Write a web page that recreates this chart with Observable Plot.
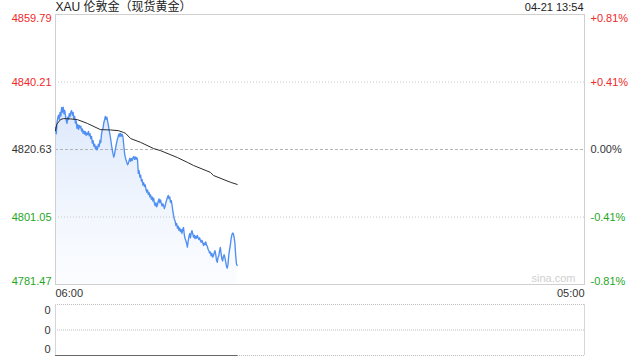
<!DOCTYPE html>
<html>
<head>
<meta charset="utf-8">
<script src="https://cdn.jsdelivr.net/npm/d3@7"></script>
<script src="https://cdn.jsdelivr.net/npm/@observablehq/plot@0.6"></script>
<style>
  html, body { margin: 0; padding: 0; background: #fff; }
  #chart { width: 640px; height: 360px; overflow: hidden; }
  #chart svg { display: block; }
</style>
</head>
<body>
<div id="chart"></div>
<script>
// ---------- data ----------
const titleText = "XAU 伦敦金（现货黄金）";
const stampText = "04-21 13:54";
const watermark = "sina.com";
const xDomainLabels = ["06:00", "05:00"];
const yTicks = [4781.47, 4801.05, 4820.63, 4840.21, 4859.79];
const pctLabels = ["-0.81%", "-0.41%", "0.00%", "+0.41%", "+0.81%"];
const prevClose = 4820.63;

// price every 2 minutes from 06:00 to 13:54
const priceStart = "06:00";
const priceStepMin = 2;
const prices = [
  4827.0, 4825.2, 4828.5, 4829.8, 4830.6, 4829.4, 4831.4, 4830.4, 4832.8, 4831.5,
  4832.9, 4831.0, 4832.0, 4830.5, 4829.0, 4828.2, 4830.0, 4829.3, 4831.0, 4830.2,
  4831.5, 4831.9, 4830.6, 4831.4, 4829.5, 4830.2, 4828.3, 4828.9, 4826.8, 4827.8,
  4826.5, 4827.6, 4826.9, 4827.4, 4826.0, 4826.6, 4825.3, 4826.0, 4825.1, 4825.8,
  4824.7, 4825.4, 4825.0, 4825.9, 4824.6, 4825.2, 4823.8, 4824.4, 4822.5, 4823.2,
  4821.6, 4822.2, 4820.9, 4821.6, 4820.5, 4821.0, 4822.2, 4821.5, 4823.3, 4822.6,
  4825.0, 4826.3, 4826.8, 4828.4, 4829.2, 4830.2, 4829.4, 4830.0, 4828.8, 4827.6,
  4826.2, 4825.0, 4823.6, 4822.0, 4820.6, 4819.4, 4818.4, 4819.2, 4820.6, 4821.8,
  4822.9, 4823.8, 4824.6, 4825.2, 4824.4, 4825.3, 4824.5, 4825.0, 4824.2, 4822.0,
  4819.6, 4818.4, 4817.6, 4816.9, 4816.2, 4816.6, 4817.4, 4818.1, 4817.2, 4818.0,
  4817.4, 4818.2, 4818.6, 4817.8, 4818.5, 4817.8, 4818.3, 4817.6, 4813.7, 4814.5,
  4812.6, 4813.2, 4811.5, 4811.9, 4810.3, 4811.0, 4809.9, 4810.4, 4809.1, 4808.3,
  4808.9, 4807.6, 4808.2, 4806.9, 4807.5, 4806.2, 4806.9, 4805.7, 4806.5, 4805.0,
  4804.3, 4805.2, 4804.0, 4804.6, 4805.6, 4806.3, 4805.2, 4806.0, 4805.0, 4804.2,
  4804.9, 4804.3, 4803.5, 4804.2, 4805.2, 4806.0, 4806.7, 4807.3, 4806.4, 4806.9,
  4805.3, 4805.8, 4804.6, 4802.8, 4801.5, 4800.4, 4799.9, 4798.6, 4799.2, 4797.8,
  4798.4, 4797.2, 4797.9, 4796.8, 4797.4, 4796.3, 4797.5, 4798.0, 4795.9, 4794.8,
  4794.2, 4793.4, 4792.3, 4794.0, 4795.3, 4796.2, 4795.0, 4796.4, 4797.1, 4796.2,
  4795.2, 4795.8, 4794.8, 4795.5, 4794.9, 4795.7, 4795.1, 4794.5, 4795.0, 4794.2,
  4793.7, 4794.3, 4793.6, 4792.8, 4793.5, 4793.0, 4793.8, 4792.9, 4792.6, 4791.7,
  4791.3, 4790.6, 4790.9, 4789.8, 4790.5, 4789.4, 4789.8, 4790.6, 4791.3, 4790.2,
  4788.5, 4787.9, 4789.3, 4789.8, 4791.2, 4792.2, 4790.4, 4788.9, 4788.3, 4789.6,
  4790.1, 4789.2, 4788.0, 4786.8, 4786.2, 4787.3, 4789.9, 4791.5, 4792.9, 4794.6,
  4795.8, 4796.4, 4796.2, 4795.1, 4793.4, 4790.0, 4787.5, 4787.0
];

// average price line
const avgTimes = ["06:00","06:03","06:13","06:21","06:39","06:57","07:23","07:57","08:23","08:44",
                  "08:57","09:03","09:16","09:42","10:16","10:34","11:18","11:44","12:00","12:44",
                  "12:52","13:37","13:54"];
const avgPrices = [4826.1, 4827.9, 4829.3, 4829.6, 4829.5, 4829.3, 4828.2, 4826.4, 4826.3, 4826.1,
                   4825.6, 4825.3, 4823.8, 4822.7, 4820.9, 4820.3, 4818.3, 4816.9, 4816.0, 4814.0,
                   4813.1, 4811.1, 4810.5];

// volume panel (all zero)
const volTimes = ["06:00", "13:54"];
const volumes = [0, 0];
const volTickLabels = ["0", "0", "0"];

// ---------- helpers ----------
const parseT = s => {
  const [h, m] = s.split(":").map(Number);
  return new Date(2025, 3, h < 6 ? 22 : 21, h, m);
};
const t0 = parseT(priceStart);
const priceData = prices.map((p, i) => ({t: new Date(t0.getTime() + i * priceStepMin * 60000), p}));
const avgData = avgTimes.map((s, i) => ({t: parseT(s), p: avgPrices[i]}));
const volData = volTimes.map((s, i) => ({t: parseT(s), v: volumes[i]}));
const xDomain = xDomainLabels.map(parseT);

const RED = "#f02828", GREEN = "#1fa61f", DARK = "#333";
const colorOf = v => v > prevClose ? RED : v < prevClose ? GREEN : DARK;
const FONT = "'Liberation Sans', Arial, 'Noto Sans CJK SC', sans-serif";

const tickRows = yTicks.map((v, i) => ({v, label: v.toFixed(2), pct: pctLabels[i]}));
const topRow = tickRows.filter((d, i) => i === tickRows.length - 1);
const botRow = tickRows.filter((d, i) => i === 0);
const midRows = tickRows.filter((d, i) => i > 0 && i < tickRows.length - 1);

function labelMarks(rows, lineAnchor) {
  return [
    Plot.text(rows, {y: "v", text: "label", frameAnchor: "left", textAnchor: "end", dx: -4,
      lineAnchor, fill: d => colorOf(d.v), fontSize: 11}),
    Plot.text(rows, {y: "v", text: "pct", frameAnchor: "right", textAnchor: "start", dx: 6,
      lineAnchor, fill: d => colorOf(d.v), fontSize: 11})
  ];
}

const main = Plot.plot({
  width: 640, height: 300,
  marginTop: 14, marginBottom: 16, marginLeft: 55, marginRight: 56,
  style: {fontFamily: FONT, fontSize: "11px", background: "#fff", color: DARK, overflow: "visible"},
  x: {type: "time", domain: xDomain, axis: null},
  y: {domain: [yTicks[0], yTicks[yTicks.length - 1]], axis: null},
  marks: [
    Plot.areaY(priceData, {x: "t", y1: yTicks[0], y2: "p", fill: "url(#goldFill)"}),
    Plot.ruleY(yTicks.filter(v => v !== prevClose && v !== yTicks[0] && v !== yTicks[yTicks.length - 1]),
      {stroke: "#c8c8c8", strokeDasharray: "1,2"}),
    Plot.ruleY([prevClose], {stroke: "#b4b4b4", strokeDasharray: "3,2"}),
    Plot.frame({stroke: "#d0d0d0"}),
    Plot.line(priceData, {x: "t", y: "p", stroke: "#4f8ef2", strokeWidth: 1.35}),
    Plot.line(avgData, {x: "t", y: "p", stroke: "#2b2b2b", strokeWidth: 1}),
    ...labelMarks(topRow, "top"),
    ...labelMarks(midRows, "middle"),
    ...labelMarks(botRow, "bottom"),
    Plot.text([titleText], {frameAnchor: "top-left", textAnchor: "start", dx: 0, dy: -7,
      lineAnchor: "middle", fontSize: 12, fill: "#222"}),
    Plot.text([stampText], {frameAnchor: "top-right", textAnchor: "end", dx: -1, dy: -7,
      lineAnchor: "middle", fontSize: 11, fill: "#222"}),
    Plot.text([watermark], {frameAnchor: "bottom-right", textAnchor: "end", dx: -9, dy: -6,
      lineAnchor: "middle", fontSize: 11, fill: "#cfcfcf"}),
    Plot.text([xDomainLabels[0]], {frameAnchor: "bottom-left", textAnchor: "start", dy: 9,
      lineAnchor: "middle", fontSize: 11, fill: DARK}),
    Plot.text([xDomainLabels[1]], {frameAnchor: "bottom-right", textAnchor: "end", dy: 9,
      lineAnchor: "middle", fontSize: 11, fill: DARK})
  ]
});

// gradient definition for the area
const ns = "http://www.w3.org/2000/svg";
const defs = document.createElementNS(ns, "defs");
const grad = document.createElementNS(ns, "linearGradient");
grad.setAttribute("id", "goldFill");
grad.setAttribute("x1", "0"); grad.setAttribute("y1", "0");
grad.setAttribute("x2", "0"); grad.setAttribute("y2", "1");
[["0", "#d6e4fb", "0.85"], ["1", "#f4f8fe", "0.4"]].forEach(([o, c, a]) => {
  const s = document.createElementNS(ns, "stop");
  s.setAttribute("offset", o); s.setAttribute("stop-color", c); s.setAttribute("stop-opacity", a);
  grad.appendChild(s);
});
defs.appendChild(grad);
main.insertBefore(defs, main.firstChild);

const volLevels = [2, 1, 0];
const volRows = volLevels.map((v, i) => ({v, label: volTickLabels[i]}));
const vol = Plot.plot({
  width: 640, height: 60,
  marginTop: 4, marginBottom: 5, marginLeft: 55, marginRight: 56,
  style: {fontFamily: FONT, fontSize: "11px", background: "#fff", color: DARK, overflow: "visible"},
  x: {type: "time", domain: xDomain, axis: null},
  y: {domain: [0, 2], axis: null},
  marks: [
    Plot.ruleY(volLevels, {stroke: "#bdbdbd", strokeDasharray: "1,1"}),
    Plot.ruleX(xDomain, {stroke: "#d6d6d6"}),
    Plot.line(volData, {x: "t", y: "v", stroke: "#666", strokeWidth: 1}),
    Plot.text(volRows.filter(d => d.v === 2), {y: "v", text: "label", frameAnchor: "left", textAnchor: "end", dx: -5, dy: 6, lineAnchor: "middle", fontSize: 11, fill: DARK}),
    Plot.text(volRows.filter(d => d.v === 1), {y: "v", text: "label", frameAnchor: "left", textAnchor: "end", dx: -5, dy: 0, lineAnchor: "middle", fontSize: 11, fill: DARK}),
    Plot.text(volRows.filter(d => d.v === 0), {y: "v", text: "label", frameAnchor: "left", textAnchor: "end", dx: -5, dy: -6, lineAnchor: "middle", fontSize: 11, fill: DARK})
  ]
});

const root = document.getElementById("chart");
root.appendChild(main);
root.appendChild(vol);
</script>
</body>
</html>
